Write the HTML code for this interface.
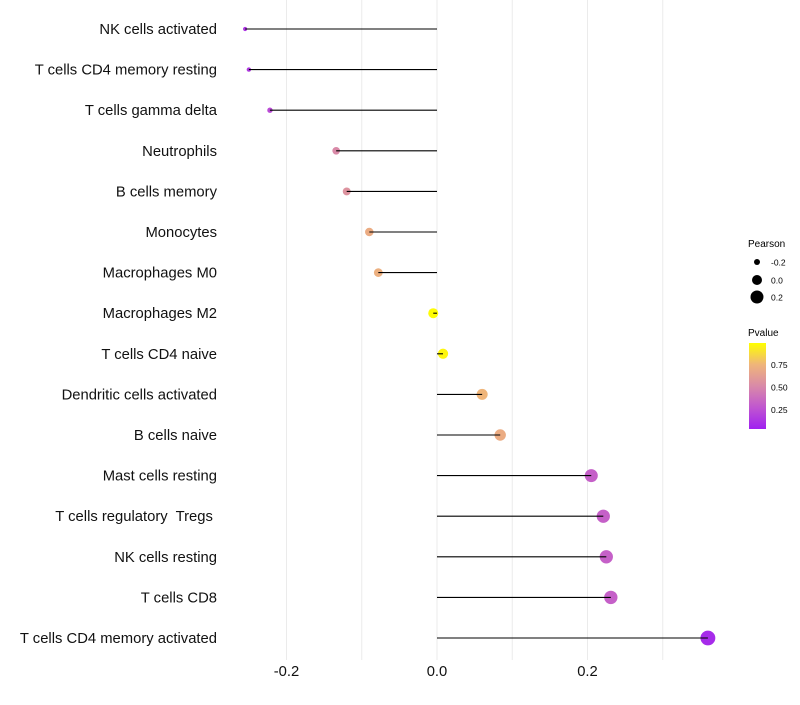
<!DOCTYPE html>
<html><head><meta charset="utf-8"><style>
body{margin:0;background:#fff;font-family:"Liberation Sans",sans-serif;}
text{white-space:pre;}
</style></head><body>
<svg id="chart" width="800" height="700" xmlns="http://www.w3.org/2000/svg">
<defs><linearGradient id="pg" x1="0" y1="1" x2="0" y2="0">
<stop offset="0" stop-color="#A020F0"/><stop offset="0.25" stop-color="#c056d0"/><stop offset="0.5" stop-color="#d98aa8"/><stop offset="0.75" stop-color="#efb57a"/><stop offset="1" stop-color="#FFFF00"/>
</linearGradient></defs>
<g id="grid"></g>
<g id="marks"></g>
<g id="ylab"></g>
<g id="xlab"></g>
<g font-size="10">
<text x="748" y="247">Pearson</text>
<circle cx="757" cy="262" r="3" fill="#000"/><text x="771" y="265.5" font-size="8.5">-0.2</text>
<circle cx="757" cy="280" r="5" fill="#000"/><text x="771" y="283.5" font-size="8.5">0.0</text>
<circle cx="757" cy="297" r="6.5" fill="#000"/><text x="771" y="300.5" font-size="8.5">0.2</text>
</g>
<g font-size="10">
<text x="748" y="336">Pvalue</text>
<rect x="749" y="343" width="17" height="86" fill="url(#pg)"/>
<text x="771" y="368" font-size="8.5">0.75</text>
<text x="771" y="390.5" font-size="8.5">0.50</text>
<text x="771" y="413" font-size="8.5">0.25</text>
</g>
</svg>
<script>
const categories=["NK cells activated","T cells CD4 memory resting","T cells gamma delta","Neutrophils","B cells memory","Monocytes","Macrophages M0","Macrophages M2","T cells CD4 naive","Dendritic cells activated","B cells naive","Mast cells resting","T cells regulatory  Tregs ","NK cells resting","T cells CD8","T cells CD4 memory activated"];
const pearson=[-0.255,-0.25,-0.222,-0.134,-0.12,-0.09,-0.078,-0.005,0.008,0.06,0.084,0.205,0.221,0.225,0.231,0.36];
const pvalues=[0.1,0.12,0.2,0.5,0.55,0.7,0.72,0.99,0.97,0.75,0.7,0.3,0.3,0.3,0.3,0.05];
const xTicks=[-0.2,0,0.2];
const xTickLabels=["-0.2","0.0","0.2"];
const gridVals=[-0.2,-0.1,0,0.1,0.2,0.3];
const NS="http://www.w3.org/2000/svg";
const xS=v=>437+v*752.5;
const yS=i=>29+i*40.6;
const rS=v=>Math.sqrt(Math.max(1,25.5+82.5*v));
const stops=[[0,[160,32,240]],[0.25,[192,86,208]],[0.5,[217,138,168]],[0.75,[239,181,122]],[1,[255,255,0]]];
function col(p){for(let k=1;k<stops.length;k++){if(p<=stops[k][0]){const a=stops[k-1],b=stops[k];const t=(p-a[0])/(b[0]-a[0]);return "rgb("+a[1].map((c,j)=>Math.round(c+(b[1][j]-c)*t)).join(",")+")";}}return "rgb(255,255,0)";}
function mk(tag,attrs,parent){const e=document.createElementNS(NS,tag);for(const k in attrs)e.setAttribute(k,attrs[k]);parent.appendChild(e);return e;}
const grid=document.getElementById("grid"),marks=document.getElementById("marks"),ylab=document.getElementById("ylab"),xlab=document.getElementById("xlab");
gridVals.forEach(v=>{const l=mk("line",{x1:xS(v),x2:xS(v),y1:0,y2:660,stroke:"#ebebeb","stroke-width":1},grid);

});
categories.forEach((c,i)=>{
const y=yS(i);
const g=document.createElementNS(NS,"circle");
g.setAttribute("cx",xS(pearson[i]));g.setAttribute("cy",y);g.setAttribute("r",rS(pearson[i]));g.setAttribute("fill",col(pvalues[i]));


marks.appendChild(g);
const s=mk("line",{x1:xS(pearson[i]),x2:xS(0),y1:y,y2:y,stroke:"#000","stroke-width":1.1},marks);


const t=mk("text",{x:217,y:y+5,"text-anchor":"end","font-size":14.8,fill:"#111"},ylab);
t.textContent=c;


});
xTicks.forEach((v,i)=>{const t=mk("text",{x:xS(v),y:676,"text-anchor":"middle","font-size":14.8,fill:"#111"},xlab);
t.textContent=xTickLabels[i];

});
</script>
</body></html>
